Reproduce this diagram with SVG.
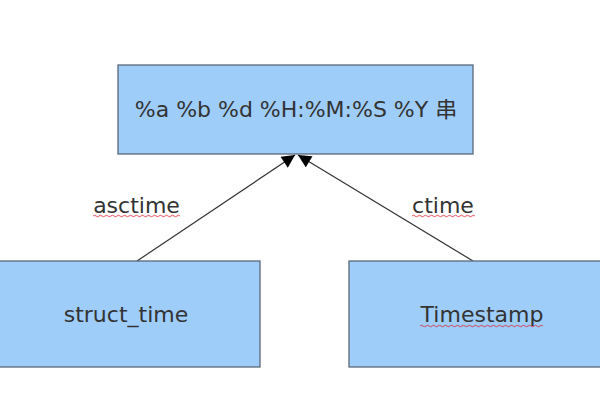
<svg xmlns="http://www.w3.org/2000/svg" width="600" height="400" viewBox="0 0 600 400">
<defs>
<style>
.box{fill:#9fcdfa;stroke:#5b6877;stroke-width:1.3}
.lbl{font-family:"DejaVu Sans",sans-serif;font-size:22px;fill:#333;text-anchor:middle}
.edge{stroke:#333;stroke-width:1.2;fill:none}
.wave{stroke:#d23;stroke-width:0.8;fill:none}
</style>
<marker id="arr" viewBox="0 0 10 10" refX="10" refY="5" markerWidth="14" markerHeight="13" markerUnits="userSpaceOnUse" orient="auto">
<path d="M0,0 L10,5 L0,10 z" fill="#000"/>
</marker>
</defs>
<rect width="600" height="400" fill="#fff"/>
<g id="connectors">
<line class="edge" x1="137" y1="261" x2="295" y2="155" marker-end="url(#arr)"/>
<line class="edge" x1="473" y1="261" x2="298" y2="155" marker-end="url(#arr)"/>
<text class="lbl" x="136.5" y="213">asctime</text>
<text class="lbl" x="443" y="213">ctime</text>
</g>
<g id="top">
<rect class="box" x="118" y="65" width="355" height="89"/>
<text class="lbl" x="296" y="117">%a %b %d %H:%M:%S %Y <tspan font-family="'Noto Sans CJK SC',sans-serif">串</tspan></text>
</g>
<g id="struct_time">
<rect class="box" x="-2" y="261" width="262" height="106"/>
<text class="lbl" x="126" y="322">struct_time</text>
</g>
<g id="timestamp">
<rect class="box" x="349" y="261" width="254" height="106"/>
<text class="lbl" x="482" y="322">Timestamp</text>
</g>
<g id="spellcheck">
<path class="wave" d="M93,216 q1.5,-1.5 3,0 t3,0 t3,0 t3,0 t3,0 t3,0 t3,0 t3,0 t3,0 t3,0 t3,0 t3,0 t3,0 t3,0 t3,0 t3,0 t3,0 t3,0 t3,0 t3,0 t3,0 t3,0 t3,0 t3,0 t3,0 t3,0 t3,0 t3,0 t3,0"/>
<path class="wave" d="M412,216 q1.5,-1.5 3,0 t3,0 t3,0 t3,0 t3,0 t3,0 t3,0 t3,0 t3,0 t3,0 t3,0 t3,0 t3,0 t3,0 t3,0 t3,0 t3,0 t3,0 t3,0 t3,0 t3,0"/>
<path class="wave" d="M420,326 q1.5,-1.5 3,0 t3,0 t3,0 t3,0 t3,0 t3,0 t3,0 t3,0 t3,0 t3,0 t3,0 t3,0 t3,0 t3,0 t3,0 t3,0 t3,0 t3,0 t3,0 t3,0 t3,0 t3,0 t3,0 t3,0 t3,0 t3,0 t3,0 t3,0 t3,0 t3,0 t3,0 t3,0 t3,0 t3,0 t3,0 t3,0 t3,0 t3,0 t3,0 t3,0 t3,0"/>
</g>
</svg>
